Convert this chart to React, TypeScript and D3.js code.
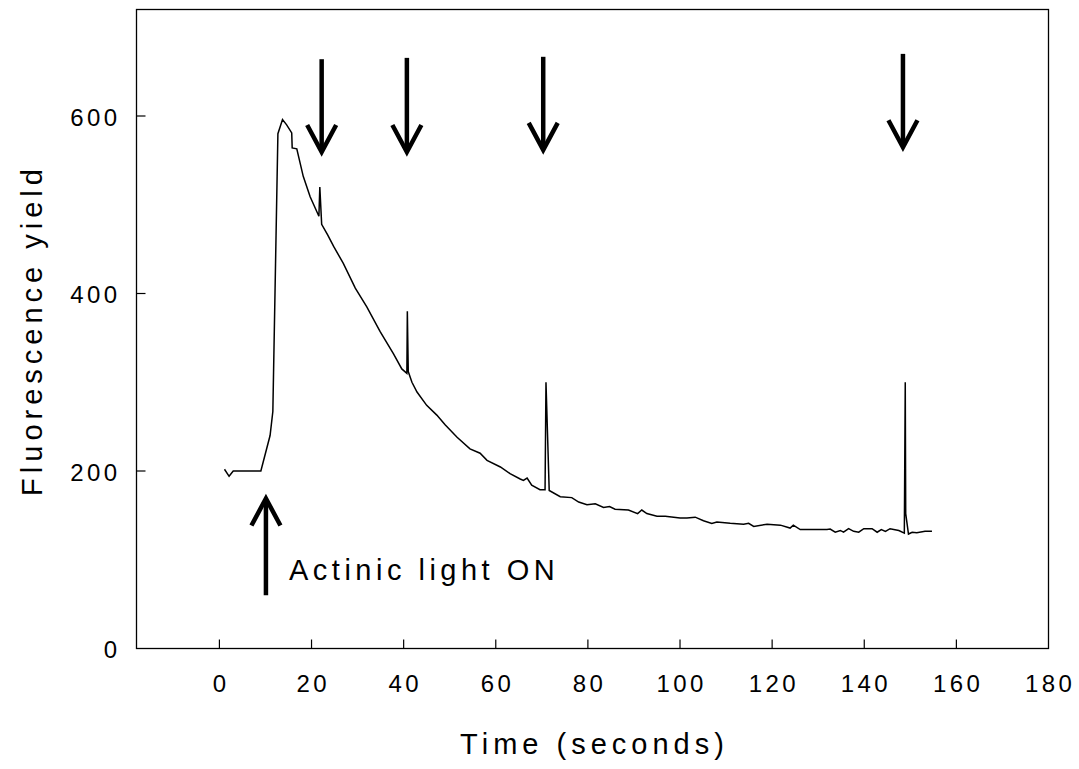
import React from "react";
import * as d3 from "d3";

const times = [
  1.1, 2.1, 3.0, 9.0, 11.0, 11.6, 12.7, 13.7, 14.6, 15.7, 15.8, 16.8, 18.2, 19.7, 21.6, 21.8, 22.2,
  23.5, 24.8, 26.9, 29.5, 32.0, 34.9, 37.8, 39.6, 40.7, 40.8, 41.0, 41.8, 42.9, 45.0, 47.2, 49.0,
  51.6, 54.4, 56.6, 58.1, 61.0, 63.1, 65.3, 66.0, 66.8, 67.8, 69.6, 70.7, 70.9, 71.6, 74.0, 76.5,
  78.0, 79.8, 81.6, 83.4, 84.7, 85.9, 88.8, 90.8, 91.7, 92.8, 95.0, 96.8, 100.0, 101.5, 103.3,
  105.1, 106.9, 108.0, 110.9, 113.8, 114.9, 116.0, 118.9, 121.8, 123.9, 124.6, 126.1, 129.0,
  131.9, 132.6, 133.7, 134.8, 135.5, 136.6, 137.7, 138.8, 139.9, 141.7, 142.8, 143.7, 144.6,
  145.6, 147.5, 148.7, 148.9, 149.0, 149.6, 150.4, 151.4, 153.2, 154.7,
];
const fluorescence = [
  202, 194, 200, 200, 240, 267, 580, 596, 590, 581, 564, 563, 532, 509, 487, 520, 478,
  466, 453, 434, 406, 385, 357, 332, 315, 310, 380, 312, 300, 289, 274, 263, 252,
  238, 225, 220, 212, 204.5, 197, 191, 189.5, 192, 184, 179, 179, 300, 178, 171, 170,
  165, 162, 163, 159, 160, 157, 156, 152, 156, 152, 149, 149, 147, 147, 148,
  144, 141, 142.5, 141, 140, 141, 137.6, 140, 139, 135.7, 139, 134, 134,
  134, 134.6, 131, 133, 131, 135, 132, 131, 135, 135, 131, 134, 132,
  135, 133, 130, 300, 152, 129, 131, 130.5, 132, 132,
];

const xTickValues = [0, 20, 40, 60, 80, 100, 120, 140, 160];
const xTickLabels = [0, 20, 40, 60, 80, 100, 120, 140, 160, 180];
const yTickValues = [200, 400, 600];
const yTickLabels = [0, 200, 400, 600];

// flash arrows (time, top value, tip value)
const flashTimes = [22.2, 40.7, 70.3, 148.4];
const flashTops = [664, 665.5, 666.7, 670];
const flashTips = [559.5, 559.5, 561.8, 564.8];
// actinic light arrow
const lightOnTime = 10.1;
const lightOnBottom = 60;
const lightOnTip = 169;

const xTitle = "Time (seconds)";
const yTitle = "Fluorescence yield";
const lightLabel = "Actinic light ON";

const W = 1079;
const H = 769;
const L = 136.5, R = 1048.5, T = 9.5, B = 648.5;
const FONT = "'Liberation Sans', Arial, sans-serif";

export default function App() {
  const x = d3.scaleLinear().domain([-18, 180]).range([L, R]);
  const y = d3.scaleLinear().domain([0, 720]).range([B, T]);
  const pts = times.map((t, i) => [t, fluorescence[i]] as [number, number]);
  const line = d3.line<[number, number]>().x((d) => x(d[0])).y((d) => y(d[1]));

  const headW = 14.5;
  const headL = 27;

  return (
    <div style={{ position: "absolute", left: 0, top: 0 }}>
      <svg width={W} height={H} style={{ display: "block", background: "#fff" }}>
        <rect x={L} y={T} width={R - L} height={B - T} fill="none" stroke="#000" strokeWidth={1.3} />
        {xTickValues.map((v) => (
          <line key={"xt" + v} x1={x(v)} x2={x(v)} y1={B} y2={B - 9} stroke="#000" strokeWidth={1.2} />
        ))}
        {yTickValues.map((v) => (
          <line key={"yt" + v} x1={L} x2={L + 9} y1={y(v)} y2={y(v)} stroke="#000" strokeWidth={1.2} />
        ))}
        {xTickLabels.map((v) => (
          <text key={"xl" + v} x={x(v) + 1.7} y={B + 43.5} textAnchor="middle" fontFamily={FONT}
            fontSize={24} letterSpacing={3.4} fill="#000">{v}</text>
        ))}
        {yTickLabels.map((v) => (
          <text key={"yl" + v} x={120.5} y={y(v) + 9.5} textAnchor="end" fontFamily={FONT}
            fontSize={24} letterSpacing={3.4} fill="#000">{v}</text>
        ))}
        <path d={line(pts) || ""} fill="none" stroke="#000" strokeWidth={1.5} strokeLinejoin="miter" />
        {flashTimes.map((t, i) => {
          const ax = x(t);
          const y0 = y(flashTops[i]);
          const y1 = y(flashTips[i]);
          return (
            <g key={"fa" + i} stroke="#000" strokeWidth={4.5} fill="none">
              <line x1={ax} x2={ax} y1={y0} y2={y1 - 2} />
              <polyline points={`${ax - headW},${y1 - headL} ${ax},${y1} ${ax + headW},${y1 - headL}`} strokeLinejoin="miter" />
            </g>
          );
        })}
        {(() => {
          const ax = x(lightOnTime);
          const y0 = y(lightOnBottom);
          const y1 = y(lightOnTip);
          return (
            <g stroke="#000" strokeWidth={4.5} fill="none">
              <line x1={ax} x2={ax} y1={y0} y2={y1 + 2} />
              <polyline points={`${ax - headW},${y1 + headL} ${ax},${y1} ${ax + headW},${y1 + headL}`} strokeLinejoin="miter" />
            </g>
          );
        })()}
        <text x={289} y={580} fontFamily={FONT} fontSize={29} letterSpacing={4.5} fill="#000">{lightLabel}</text>
        <text x={(L + R) / 2 + 2} y={754} textAnchor="middle" fontFamily={FONT} fontSize={29} letterSpacing={5} fill="#000">{xTitle}</text>
        <text transform={`translate(42,330) rotate(-90)`} textAnchor="middle" fontFamily={FONT} fontSize={29}
          letterSpacing={5} fill="#000">{yTitle}</text>
      </svg>
    </div>
  );
}
